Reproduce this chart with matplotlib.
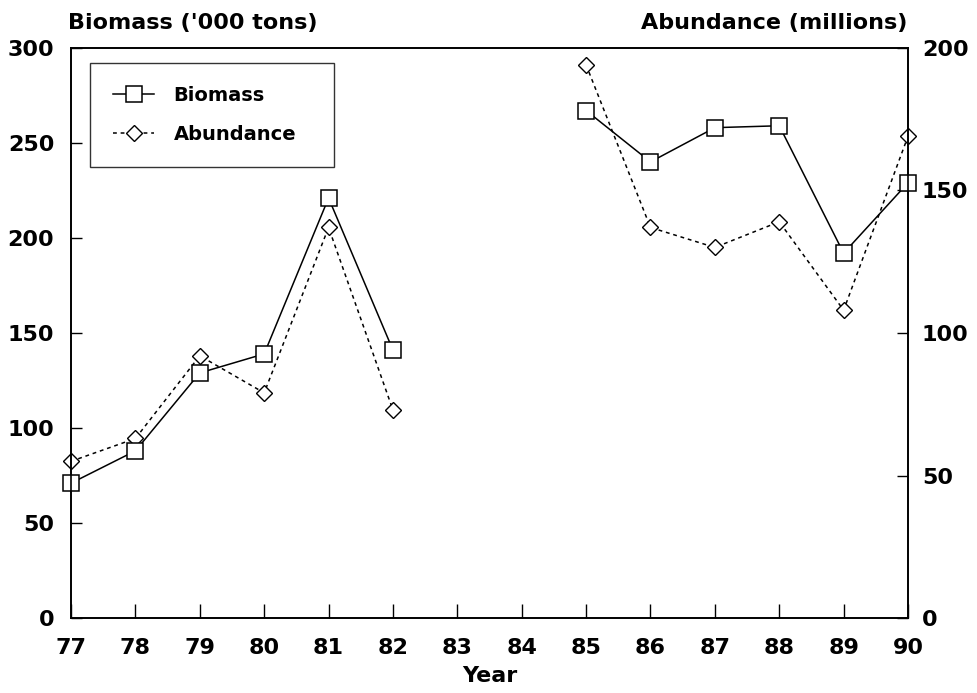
import numpy as np
import matplotlib.pyplot as plt

plt.rcParams['font.family'] = ['DejaVu Sans']

years = [77, 78, 79, 80, 81, 82, 83, 84, 85, 86, 87, 88, 89, 90]
# 83 and 84 have no survey -> gap in the lines
biomass = [71, 88, 129, 139, 221, 141, np.nan, np.nan, 267, 240, 258, 259, 192, 229]
abundance = [55, 63, 92, 79, 137, 73, np.nan, np.nan, 194, 137, 130, 139, 108, 169]

fig = plt.figure(figsize=(9.77, 6.93), dpi=100)
ax = fig.add_axes([0.0727, 0.108, 0.8567, 0.823])
ax2 = ax.twinx()

l1, = ax.plot(years, biomass, color='black', lw=1.1, marker='s', ms=11,
              mfc='white', mec='black', mew=1.1, label='Biomass', clip_on=False)
l2, = ax2.plot(years, abundance, color='black', lw=1.1, ls=(0, (2.5, 2.5)),
               marker='D', ms=8, mfc='white', mec='black', mew=1.0,
               label='Abundance', clip_on=False)
ax.set_zorder(ax2.get_zorder() + 1)
ax.patch.set_visible(False)

ax.set_xlim(77, 90)
ax.set_ylim(0, 300)
ax2.set_ylim(0, 200)
ax.set_xticks(years)
ax.set_yticks(range(0, 301, 50))
ax2.set_yticks(range(0, 201, 50))

for a in (ax, ax2):
    a.tick_params(direction='in', length=8, width=1, labelsize=16)
    for s in a.spines.values():
        s.set_linewidth(1.2)
ax.tick_params(axis='y', pad=12)
ax2.tick_params(axis='y', pad=10)
ax.tick_params(axis='x', length=10, pad=14)

tf = dict(fontsize=16, fontweight='bold')
for lab in ax.get_xticklabels() + ax.get_yticklabels() + ax2.get_yticklabels():
    lab.set_fontweight('bold')

ax.set_xlabel('Year', fontsize=16, fontweight='bold', labelpad=6)
fig.text(0.070, 0.952, "Biomass ('000 tons)", ha='left', va='bottom', **tf)
fig.text(0.929, 0.952, "Abundance (millions)", ha='right', va='bottom', **tf)

leg = ax.legend(handles=[l1, l2], loc='upper left',
                bbox_to_anchor=(0.0227, 0.7912, 0.2915, 0.1825), mode='expand',
                fontsize=14, frameon=True, fancybox=False, edgecolor='black',
                borderpad=1.2, labelspacing=1.0, handlelength=2.1,
                handletextpad=1.0, borderaxespad=0)
leg.get_frame().set_linewidth(1.0)
for t in leg.get_texts():
    t.set_fontweight('bold')

fig.savefig('out.png', dpi=100)
